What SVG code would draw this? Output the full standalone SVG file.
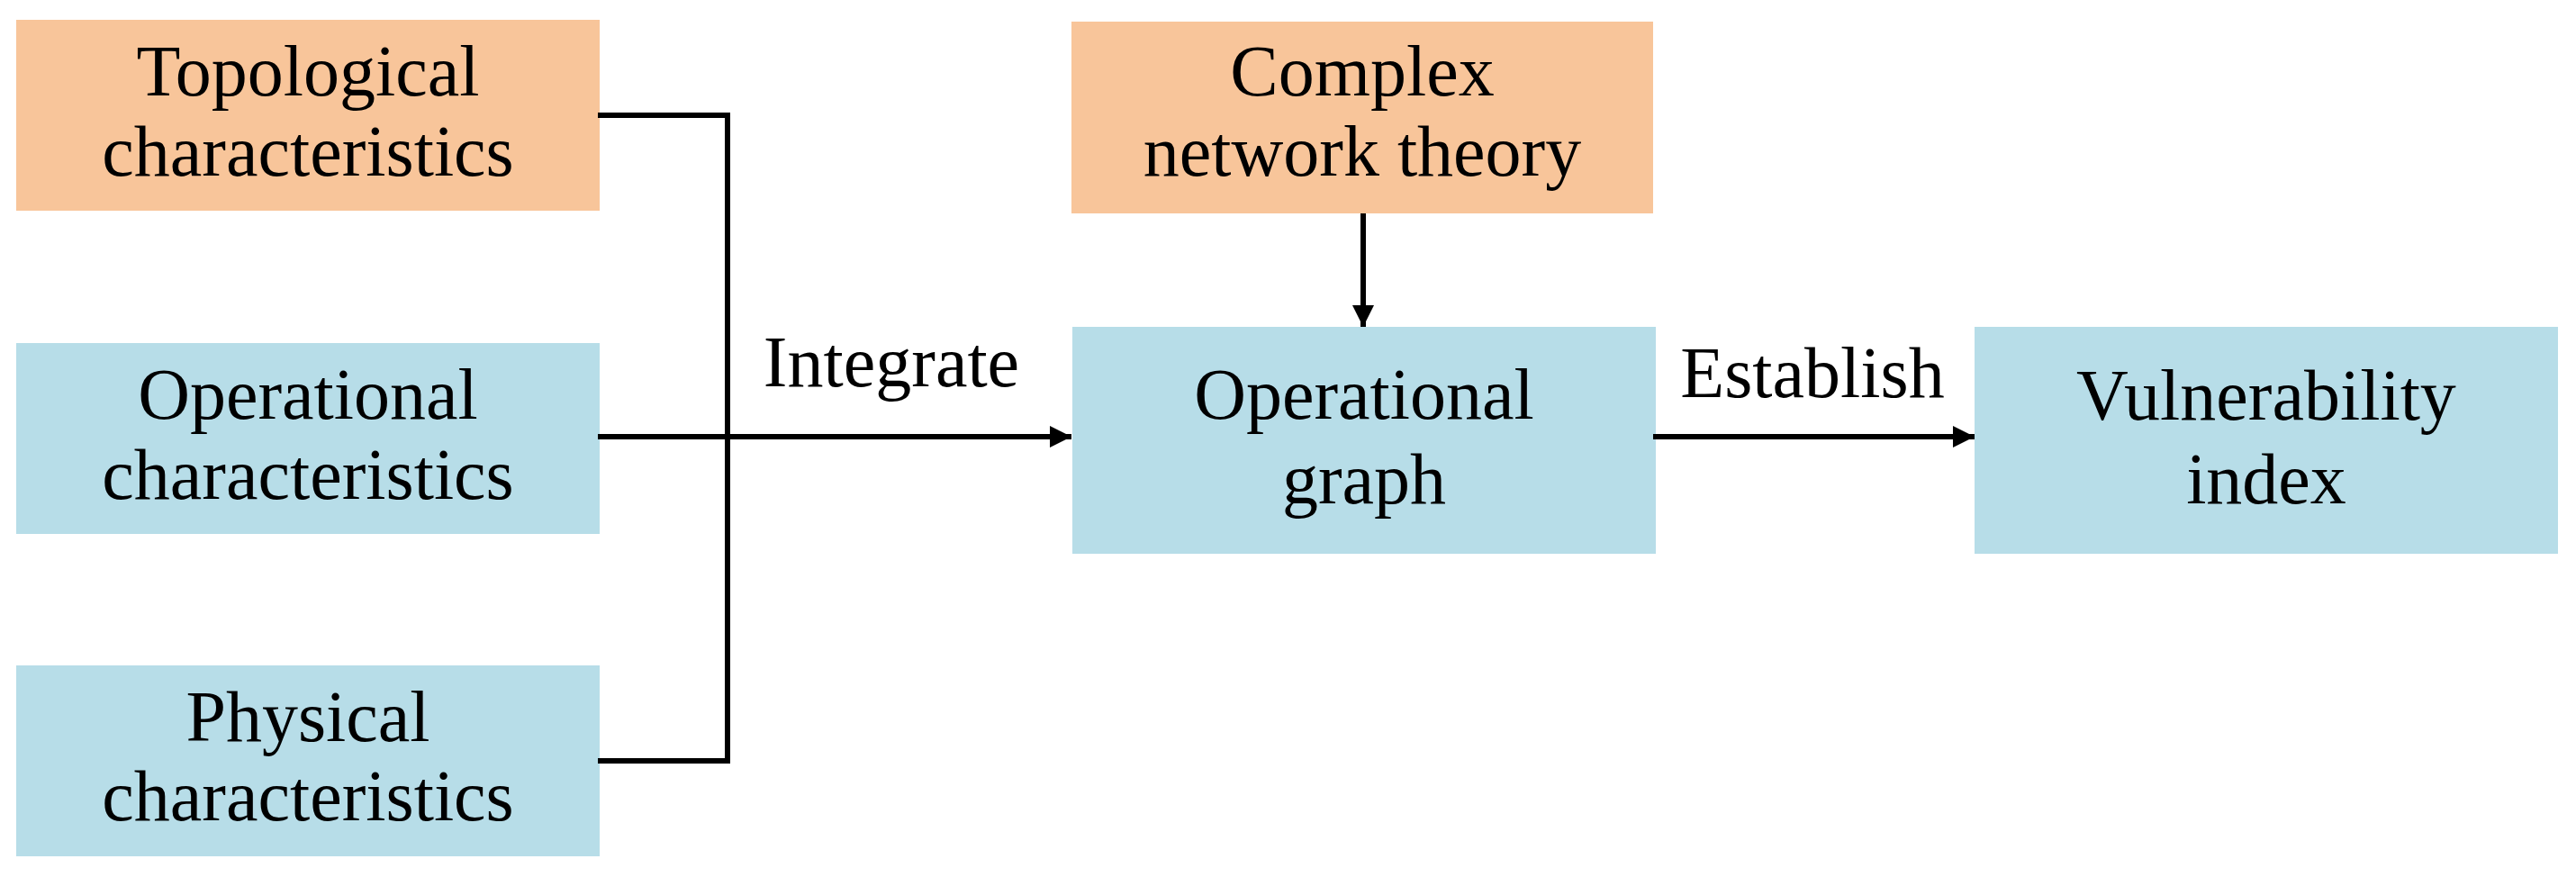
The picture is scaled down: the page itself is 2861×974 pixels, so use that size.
<svg xmlns="http://www.w3.org/2000/svg" width="2861" height="974" viewBox="0 0 2861 974">
<style>
.o{fill:#F8C59A}.b{fill:#B7DDE8}
text{font-family:"Liberation Serif",serif;font-size:80px;fill:#000;text-anchor:middle}
.c{fill:none;stroke:#000;stroke-width:6}
</style>
<defs><marker id="a" viewBox="0 0 10 10" refX="10" refY="5" markerWidth="4" markerHeight="5" markerUnits="strokeWidth" orient="auto"><path d="M0,0L10,5L0,10z"/></marker></defs>
<rect width="2861" height="974" fill="#fff"/>
<g id="topo"><rect class="o" x="18" y="22" width="648" height="212"/><text x="342" y="106">Topological</text><text x="342" y="195">characteristics</text></g>
<g id="oper"><rect class="b" x="18" y="381" width="648" height="212"/><text x="342" y="465">Operational</text><text x="342" y="554">characteristics</text></g>
<g id="phys"><rect class="b" x="18" y="739" width="648" height="212"/><text x="342" y="823">Physical</text><text x="342" y="911">characteristics</text></g>
<g id="complex"><rect class="o" x="1190" y="24" width="646" height="213"/><text x="1513" y="106">Complex</text><text x="1513" y="195">network theory</text></g>
<g id="graph"><rect class="b" x="1191" y="363" width="648" height="252"/><text x="1515" y="465">Operational</text><text x="1515" y="559">graph</text></g>
<g id="vuln"><rect class="b" x="2193" y="363" width="648" height="252"/><text x="2517" y="466">Vulnerability</text><text x="2517" y="559">index</text></g>
<g id="connectors">
<path class="c" d="M664,128H808V845H664"/>
<path class="c" d="M664,485H1190" marker-end="url(#a)"/>
<path class="c" d="M1514,237V363" marker-end="url(#a)"/>
<path class="c" d="M1836,485H2193" marker-end="url(#a)"/>
<text x="990" y="429">Integrate</text>
<text x="2013" y="441">Establish</text>
</g>
</svg>
